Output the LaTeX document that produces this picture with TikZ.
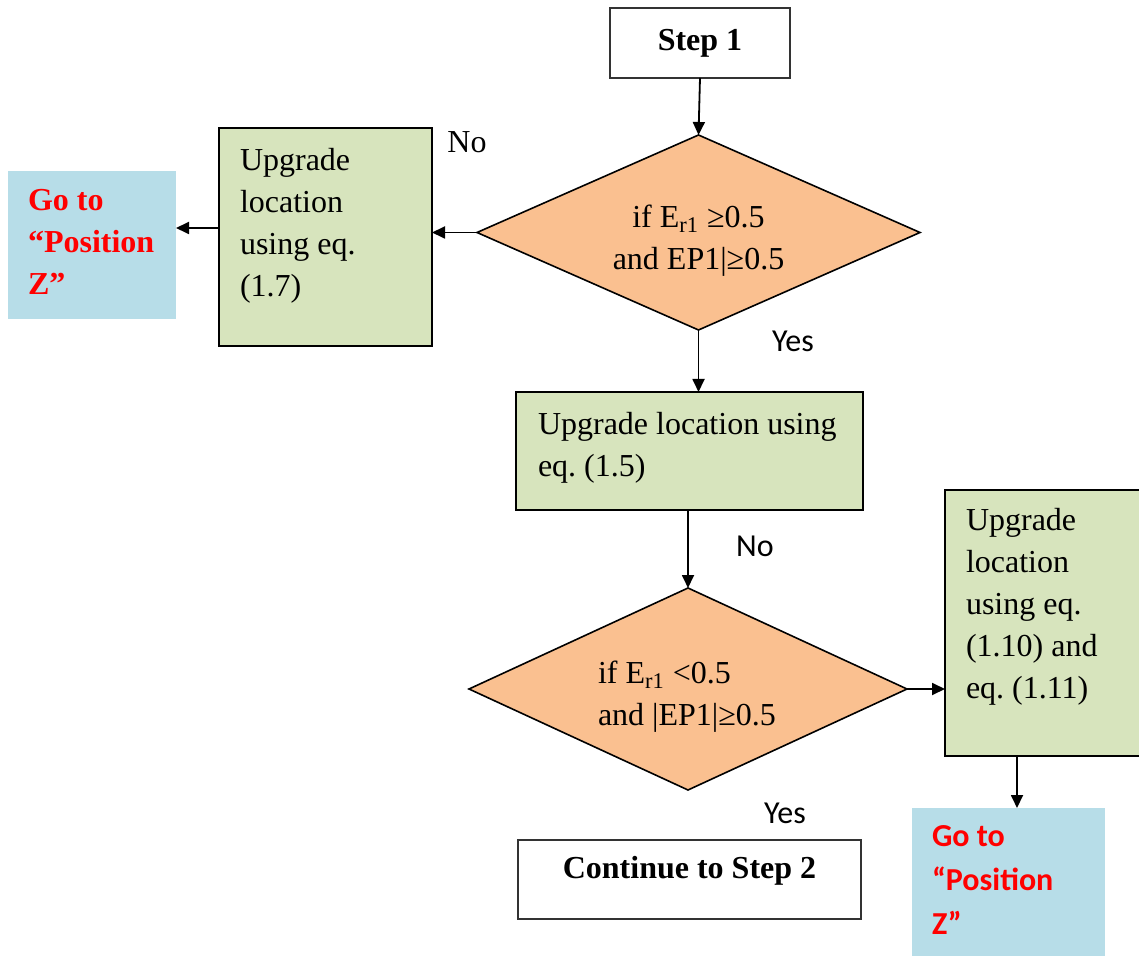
\documentclass[tikz,border=0pt]{standalone}
\usepackage{fontspec}
\setmainfont{Liberation Serif}
\newfontfamily\calfont{Carlito}
\usepackage{tikz}
\usetikzlibrary{arrows.meta,shapes.geometric}
\frenchspacing
\definecolor{decorange}{RGB}{250,192,144}
\definecolor{upggreen}{RGB}{215,228,189}
\definecolor{gozblue}{RGB}{183,221,232}
\definecolor{gozred}{RGB}{255,0,0}
\newcommand{\tbox}[4][\raggedright]{\parbox[c][#3][t]{#2}{#1#4}}
\newcommand{\dtext}[3][\centering]{\raisebox{-4pt}[\height][\depth]{\parbox{#2}{#1#3}}}
\newcommand{\Erone}{E\textsubscript{r1}}
\newcommand{\bodysize}{\fontsize{16}{21}\selectfont}
\tikzset{
  stepbox/.style={draw=black!80, fill=white, line width=0.8pt, inner xsep=0pt, inner ysep=8pt,
                  outer sep=0pt, font=\bfseries\bodysize},
  upgbox/.style ={draw=black, fill=upggreen, line width=1.1pt, inner xsep=10.5pt, inner ysep=10pt,
                  outer sep=0pt},
  gozbox/.style ={fill=gozblue, inner xsep=10pt, inner ysep=9pt, outer sep=0pt,
                  text=gozred, font=\bfseries\bodysize},
  dec/.style    ={diamond, draw=black, fill=decorange, line width=0.8pt, inner sep=0pt,
                  outer sep=0pt},
  ar/.style     ={-{Triangle[length=6.5pt,width=6pt]}, line width=0.9pt},
  lbl/.style    ={inner sep=0pt},
}
\begin{document}
\begin{tikzpicture}[x=0.5pt,y=-0.5pt,every node/.style={font=\bodysize}]
\useasboundingbox (0,0) rectangle (1139,956);

% start
\node[stepbox, minimum width=90pt, minimum height=35pt, inner ysep=0pt] (step1) at (700,43) {Step 1};

% first test
\node[dec, aspect=2.27, minimum width=221.5pt, minimum height=97.5pt] (test1) at (698.5,232.5)
  {\dtext{100pt}{if \Erone{} ≥0.5\\and EP1|≥0.5}};
\node[upgbox] (upg1) at (325.5,237)
  {\tbox{85.5pt}{89pt}{Upgrade\\location\\using eq.\\(1.7)}};
\node[gozbox] (goz1) at (92,245)
  {\tbox{64pt}{56pt}{Go to\\“Position\\Z”}};
\node[upgbox, inner xsep=11pt] (upg2) at (689.5,451)
  {\tbox{151.5pt}{39pt}{Upgrade location using\\eq. (1.5)}};

% second test
\node[dec, aspect=2.17, minimum width=219pt, minimum height=101pt] (test2) at (688,689)
  {\dtext[\raggedright]{90pt}{if \Erone{} <0.5\\and |EP1|≥0.5}};
\node[upgbox, inner ysep=9pt] (upg3) at (1047.5,623)
  {\tbox{81.5pt}{115pt}{Upgrade\\location\\using eq.\\(1.10) and\\eq. (1.11)}};
\node[gozbox, font=\calfont\bfseries\fontsize{16}{22}\selectfont] (goz2) at (1008.5,889)
  {\tbox{76.5pt}{63pt}{Go to\\“Position\\Z”}};
\node[stepbox] (step2) at (689.5,879.5)
  {\tbox[\centering]{171.5pt}{23.5pt}{Continue to Step 2}};

% branch labels
\node[lbl] (no1) at (467,142) {No};
\node[lbl, font=\calfont\bodysize] (yes1) at (793,341) {Yes};
\node[lbl, font=\calfont\bodysize] (no2) at (755,546) {No};
\node[lbl, font=\calfont\bodysize] (yes2) at (785,813) {Yes};

% connectors
\draw[ar] (step1.south) -- (test1.north);
\draw[ar] (test1.west) -- (test1.west -| upg1.east);
\draw[ar] ([yshift=4.5pt]upg1.west) -- ([yshift=4.5pt]upg1.west -| goz1.east);
\draw[ar] (test1.south) -- (test1.south |- upg2.north);
\draw[ar] (upg2.south -| test2.north) -- (test2.north);
\draw[ar] (test2.east) -- (test2.east -| upg3.west);
\draw[ar] ([xshift=4.25pt]goz2.north |- upg3.south) -- ([xshift=4.25pt]goz2.north);
\end{tikzpicture}
\end{document}
